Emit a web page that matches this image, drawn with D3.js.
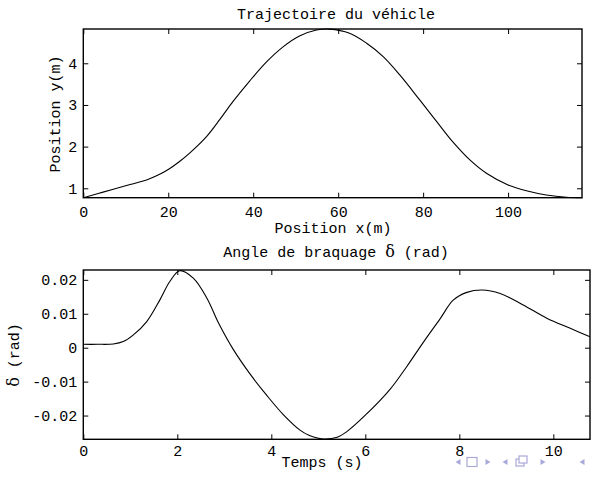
<!DOCTYPE html>
<html>
<head>
<meta charset="utf-8">
<script src="https://cdn.jsdelivr.net/npm/d3@7"></script>
<style>
  html, body { margin: 0; padding: 0; background: #fff; }
  svg { display: block; }
  text { font-family: "Liberation Mono", "DejaVu Sans Mono", monospace; font-size: 15px; fill: #000; }
</style>
</head>
<body>
<script>
// ---- Data: vehicle trajectory ----
const trajX = [0, 3.5, 7.06, 11, 14.9, 17.5, 20, 22.5, 25.1, 29.0, 32.2, 35.3, 39.2, 43.2, 47.1, 51, 54.9, 58, 62.7, 66.7, 70.6, 74.5, 79.2, 83.2, 87.1, 91, 94.9, 100, 104.3, 109, 113.7, 117.5];
const trajY = [0.775, 0.875, 0.976, 1.09, 1.20, 1.31, 1.45, 1.63, 1.85, 2.24, 2.66, 3.09, 3.58, 4.04, 4.40, 4.66, 4.80, 4.82, 4.72, 4.48, 4.16, 3.72, 3.12, 2.60, 2.10, 1.68, 1.36, 1.08, 0.94, 0.84, 0.785, 0.775];

// ---- Data: steering angle ----
const timeS = [0, 0.3, 0.64, 0.85, 1.06, 1.35, 1.63, 1.84, 2.05, 2.34, 2.63, 2.88, 3.19, 3.55, 3.90, 4.26, 4.61, 4.80, 5.1, 5.40, 5.60, 6.0, 6.53, 6.88, 7.23, 7.59, 7.87, 8.16, 8.48, 8.87, 9.36, 9.86, 10.36, 10.78];
const delta = [0.0010, 0.0010, 0.0011, 0.0018, 0.0037, 0.0077, 0.0141, 0.0195, 0.0227, 0.0205, 0.0146, 0.0072, -0.0005, -0.0078, -0.0140, -0.0198, -0.0243, -0.0258, -0.0269, -0.0264, -0.0248, -0.0199, -0.0122, -0.0056, 0.0015, 0.0085, 0.0140, 0.0163, 0.0170, 0.0160, 0.0126, 0.0087, 0.0057, 0.0032];

// ---- Ticks & labels ----
const trajXTicks = [0, 20, 40, 60, 80, 100];
const trajYTicks = [1, 2, 3, 4];
const timeTicks = [0, 2, 4, 6, 8, 10];
const deltaTicks = [-0.02, -0.01, 0, 0.01, 0.02];
const deltaTickLabels = ["-0.02", "-0.01", "0", "0.01", "0.02"];

const W = 591, H = 477;
const svg = d3.select("body").append("svg").attr("width", W).attr("height", H);
svg.append("rect").attr("width", W).attr("height", H).attr("fill", "#fff");

function panel(opt) {
  const x = d3.scaleLinear().domain(opt.xDomain).range([opt.left, opt.right]);
  const y = d3.scaleLinear().domain(opt.yDomain).range([opt.bottom, opt.top]);
  const g = svg.append("g");

  // curve
  g.append("path")
    .datum(opt.xs.map((v, i) => [v, opt.ys[i]]))
    .attr("fill", "none").attr("stroke", "#000").attr("stroke-width", 1.1)
    .attr("d", d3.line().x(d => x(d[0])).y(d => y(d[1])).curve(d3.curveCatmullRom.alpha(0.5)));

  // axes
  const ax = (gen, tx, ty) => {
    const a = g.append("g").attr("transform", `translate(${tx},${ty})`).call(gen);
    a.select(".domain").remove();
    a.selectAll(".tick line").attr("stroke", "#000").attr("stroke-width", 1);
    a.selectAll("text").attr("font-family", null).attr("font-size", null).attr("fill", "#000");
    return a;
  };
  ax(d3.axisBottom(x).tickValues(opt.xTicks).tickSizeInner(-5).tickSizeOuter(0).tickPadding(opt.xPad).tickFormat(d3.format("d")), 0, opt.bottom);
  ax(d3.axisTop(x).tickValues(opt.xTicks).tickSizeInner(-5).tickSizeOuter(0).tickFormat(""), 0, opt.top);
  ax(d3.axisLeft(y).tickValues(opt.yTicks).tickSizeInner(-5).tickSizeOuter(0).tickPadding(6).tickFormat(opt.yFmt), opt.left, 0);
  ax(d3.axisRight(y).tickValues(opt.yTicks).tickSizeInner(-5).tickSizeOuter(0).tickFormat(""), opt.right, 0);

  // box
  g.append("rect").attr("x", opt.left).attr("y", opt.top)
    .attr("width", opt.right - opt.left).attr("height", opt.bottom - opt.top)
    .attr("fill", "none").attr("stroke", "#000").attr("stroke-width", 1.4);
  return {x, y};
}

// Top panel
panel({
  left: 83.3, right: 582, top: 29, bottom: 197.7,
  xDomain: [0, 117.4], yDomain: [0.774, 4.823],
  xs: trajX, ys: trajY, xTicks: trajXTicks, yTicks: trajYTicks,
  xPad: 9, yFmt: d3.format("d")
});
svg.append("text").attr("x", 336).attr("y", 19).attr("text-anchor", "middle").attr("font-size", 15.5).text("Trajectoire du véhicle");
svg.append("text").attr("x", 333).attr("y", 233).attr("text-anchor", "middle").text("Position x(m)");
svg.append("text").attr("transform", "translate(60,114) rotate(-90)").attr("text-anchor", "middle").text("Position y(m)");

// Bottom panel
panel({
  left: 83.3, right: 590, top: 270, bottom: 439.3,
  xDomain: [0, 10.78], yDomain: [-0.0270, 0.0229],
  xs: timeS, ys: delta, xTicks: timeTicks, yTicks: deltaTicks,
  xPad: 6, yFmt: (d) => deltaTickLabels[deltaTicks.indexOf(d)]
});
const t2 = svg.append("text").attr("x", 336).attr("y", 257).attr("text-anchor", "middle").attr("font-size", 15.5);
t2.append("tspan").text("Angle de braquage ");
t2.append("tspan").attr("font-family", "DejaVu Serif").attr("font-size", 16).text("δ");
t2.append("tspan").text(" (rad)");
svg.append("text").attr("x", 322).attr("y", 467).attr("text-anchor", "middle").attr("font-size", 14.5).text("Temps (s)");
const yl2 = svg.append("text").attr("transform", "translate(19,355) rotate(-90)").attr("text-anchor", "middle");
yl2.append("tspan").attr("font-family", "DejaVu Serif").attr("font-size", 16).text("δ");
yl2.append("tspan").text(" (rad)");

// Beamer navigation symbols (decorative)
const nav = svg.append("g").attr("fill", "#a9a9da").attr("stroke", "#a9a9da");
const ny = 462;
const triL = (cx) => nav.append("path").attr("stroke", "none").attr("d", `M${cx+2.5},${ny-3} L${cx-2.5},${ny} L${cx+2.5},${ny+3} Z`);
const triR = (cx) => nav.append("path").attr("stroke", "none").attr("d", `M${cx-2.5},${ny-3} L${cx+2.5},${ny} L${cx-2.5},${ny+3} Z`);
triL(458);
nav.append("rect").attr("x", 467).attr("y", ny - 4.5).attr("width", 10).attr("height", 9).attr("fill", "none").attr("stroke-width", 1.2);
triR(488);
triL(505);
nav.append("rect").attr("x", 516).attr("y", ny - 3).attr("width", 8).attr("height", 7).attr("fill", "none").attr("stroke-width", 1.2);
nav.append("rect").attr("x", 519).attr("y", ny - 6).attr("width", 8).attr("height", 7).attr("fill", "#fff").attr("stroke-width", 1.2);
triR(543);
triL(582);
</script>
</body>
</html>
